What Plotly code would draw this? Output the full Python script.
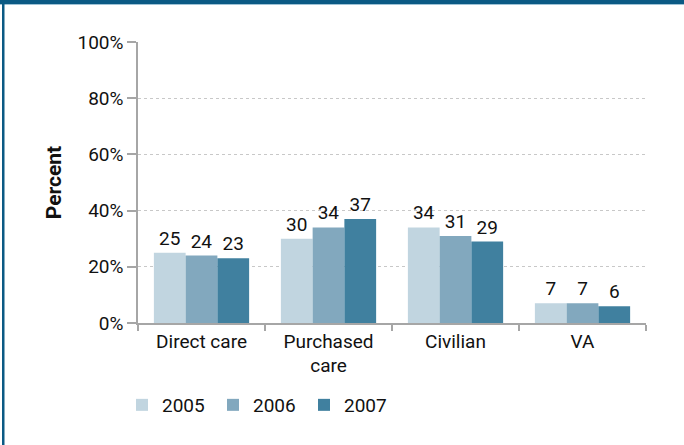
import plotly.graph_objects as go

CATEGORIES = ["Direct care", "Purchased<br>care", "Civilian", "VA"]
YEARS = ["2005", "2006", "2007"]
VALUES_2005 = [25, 30, 34, 7]
VALUES_2006 = [24, 34, 31, 7]
VALUES_2007 = [23, 37, 29, 6]
Y_TICKS = [0, 20, 40, 60, 80, 100]
Y_TICK_LABELS = ["0%", "20%", "40%", "60%", "80%", "100%"]

COLORS = ["#c1d5e0", "#82a8be", "#40809f"]
FRAME = "#0b5a84"
FONT = "Roboto, 'Open Sans', sans-serif"

# plot area in pixels, used to place the frame lines in paper units
W, H = 684, 445
L, R, T, B = 138, 38, 42, 122
PW, PH = W - L - R, H - T - B


def px_x(x):
    return (x - L) / PW


def px_y(y):
    return (H - B - y) / PH


fig = go.Figure()
for year, vals, color in zip(YEARS, [VALUES_2005, VALUES_2006, VALUES_2007], COLORS):
    fig.add_trace(
        go.Bar(
            name=year,
            x=CATEGORIES,
            y=vals,
            marker=dict(color=color, line=dict(width=0)),
            text=vals,
            textposition="outside",
            cliponaxis=False,
            textfont=dict(size=19, color="#111111", family=FONT),
        )
    )

fig.update_layout(
    width=W,
    height=H,
    margin=dict(l=L, r=R, t=T, b=B, autoexpand=False),
    paper_bgcolor="white",
    plot_bgcolor="white",
    barmode="group",
    bargap=0.25,
    bargroupgap=0,
    font=dict(family=FONT, size=19, color="#111111"),
    legend=dict(
        orientation="h",
        x=px_x(122),
        y=px_y(386),
        xanchor="left",
        yanchor="top",
        font=dict(size=19),
        entrywidth=46,
        entrywidthmode="pixels",
        itemclick=False,
    ),
    showlegend=True,
    shapes=[
        dict(type="rect", xref="paper", yref="paper",
             x0=px_x(0), x1=px_x(W), y0=px_y(0), y1=px_y(4),
             fillcolor=FRAME, line=dict(width=0)),
        dict(type="line", xref="paper", yref="paper",
             x0=px_x(0), x1=px_x(W), y0=px_y(4.5), y1=px_y(4.5),
             line=dict(color="#9fc3d6", width=1)),
        dict(type="rect", xref="paper", yref="paper",
             x0=px_x(2), x1=px_x(4.5), y0=px_y(0), y1=px_y(H),
             fillcolor=FRAME, line=dict(width=0)),
    ],
)

fig.update_xaxes(
    showline=True,
    linecolor="#a6a6a6",
    linewidth=1.5,
    ticks="outside",
    tickson="boundaries",
    ticklen=6,
    tickcolor="#a6a6a6",
    tickwidth=1.5,
    tickfont=dict(size=19),
    showgrid=False,
)
fig.update_yaxes(
    range=[0, 100],
    tickvals=Y_TICKS,
    ticktext=Y_TICK_LABELS,
    showline=True,
    linecolor="#a6a6a6",
    linewidth=1.5,
    ticks="outside",
    ticklen=9,
    tickcolor="#a6a6a6",
    tickwidth=1.5,
    tickfont=dict(size=19),
    showgrid=True,
    gridcolor="#c8c8c8",
    griddash="dot",
    gridwidth=1,
    zeroline=False,
    title=dict(text="<b>Percent</b>", font=dict(size=21), standoff=10),
)

# drop the browser's default page margin so the frame sits at the window edge
fig.write_html(
    "out.html",
    config={"displayModeBar": False},
    post_script="document.body.style.margin = '0';",
)
